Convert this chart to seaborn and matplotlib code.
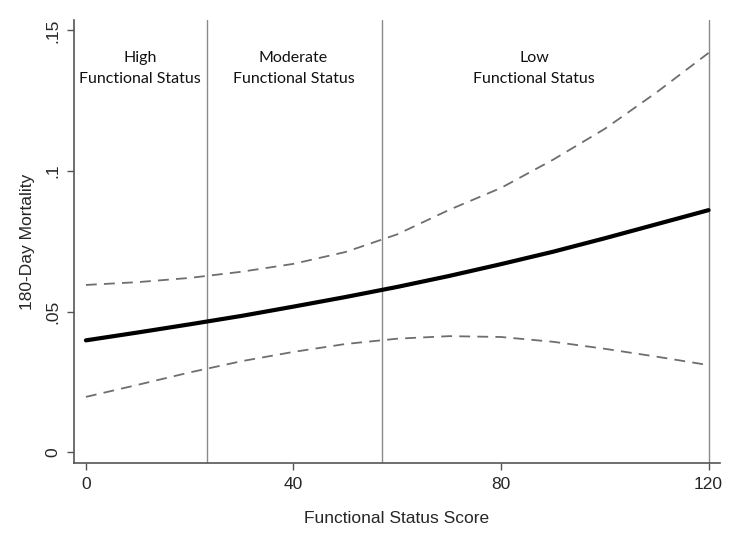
import numpy as np
import pandas as pd
import matplotlib
matplotlib.use("Agg")
import matplotlib.pyplot as plt
import seaborn as sns

# ---------------------------
# datos
# ---------------------------
score = [0, 10, 20, 30, 40, 50, 60, 70, 80, 90, 100, 110, 120]
mortality = [0.0398, 0.0426, 0.0455, 0.0485, 0.0518, 0.0552, 0.0588,
             0.0627, 0.0669, 0.0713, 0.0761, 0.0811, 0.0861]
upper_ci = [0.0595, 0.0605, 0.0620, 0.0642, 0.0670, 0.0712, 0.0775,
            0.0862, 0.0940, 0.1040, 0.1150, 0.1280, 0.1420]
lower_ci = [0.0197, 0.0240, 0.0284, 0.0324, 0.0357, 0.0385, 0.0404,
            0.0413, 0.0410, 0.0393, 0.0368, 0.0340, 0.0310]

cutoffs = [23.3, 57.0, 120]
region_labels = ["High\nFunctional Status", "Moderate\nFunctional Status", "Low\nFunctional Status"]
region_centers = [10.4, 40, 86.4]

x_ticks = [0, 40, 80, 120]
y_ticks = [0, 0.05, 0.1, 0.15]
y_ticklabels = ["0", ".05", ".1", ".15"]

df = pd.DataFrame({"score": score, "mort": mortality, "up": upper_ci, "lo": lower_ci})

# ---------------------------
# grafica
# ---------------------------
sns.set_style("white")
plt.rcParams["font.family"] = ["Liberation Sans", "DejaVu Sans"]

fig = plt.figure(figsize=(7.4, 5.37), dpi=100)
ax = fig.add_axes([0.1, 0.1378, 0.873, 0.825])

for c in cutoffs:
    ax.axvline(c, color="#8a8a8a", lw=1.0, zorder=1)

sns.lineplot(data=df, x="score", y="up", ax=ax, color="#6e6e6e", lw=1.3,
             zorder=2).lines[-1].set_dashes([6, 4])
sns.lineplot(data=df, x="score", y="lo", ax=ax, color="#6e6e6e", lw=1.3,
             zorder=2).lines[-1].set_dashes([6, 4])
sns.lineplot(data=df, x="score", y="mort", ax=ax, color="black", lw=3,
             zorder=3)

for lab, xc in zip(region_labels, region_centers):
    ax.text(xc, 0.1425, lab, ha="center", va="top", fontsize=11.5,
            family=["Lato", "DejaVu Sans"], linespacing=1.6, color="#111111")

ax.set_xlim(-2.3, 122.2)
ax.set_ylim(-0.0038, 0.1537)
ax.set_xticks(x_ticks)
ax.set_yticks(y_ticks)
ax.set_yticklabels(y_ticklabels, rotation=90, va="center")
ax.tick_params(axis="both", direction="out", length=5, width=1, color="#555555",
               labelsize=12.5, bottom=True, left=True, pad=5)
ax.set_xlabel("Functional Status Score", fontsize=12.5, labelpad=14)
ax.set_ylabel("180-Day Mortality", fontsize=12.5, labelpad=7)

sns.despine(ax=ax)
for s in ["left", "bottom"]:
    ax.spines[s].set_color("#555555")
    ax.spines[s].set_linewidth(1.2)

fig.savefig("out.png", dpi=100)
plt.close()
